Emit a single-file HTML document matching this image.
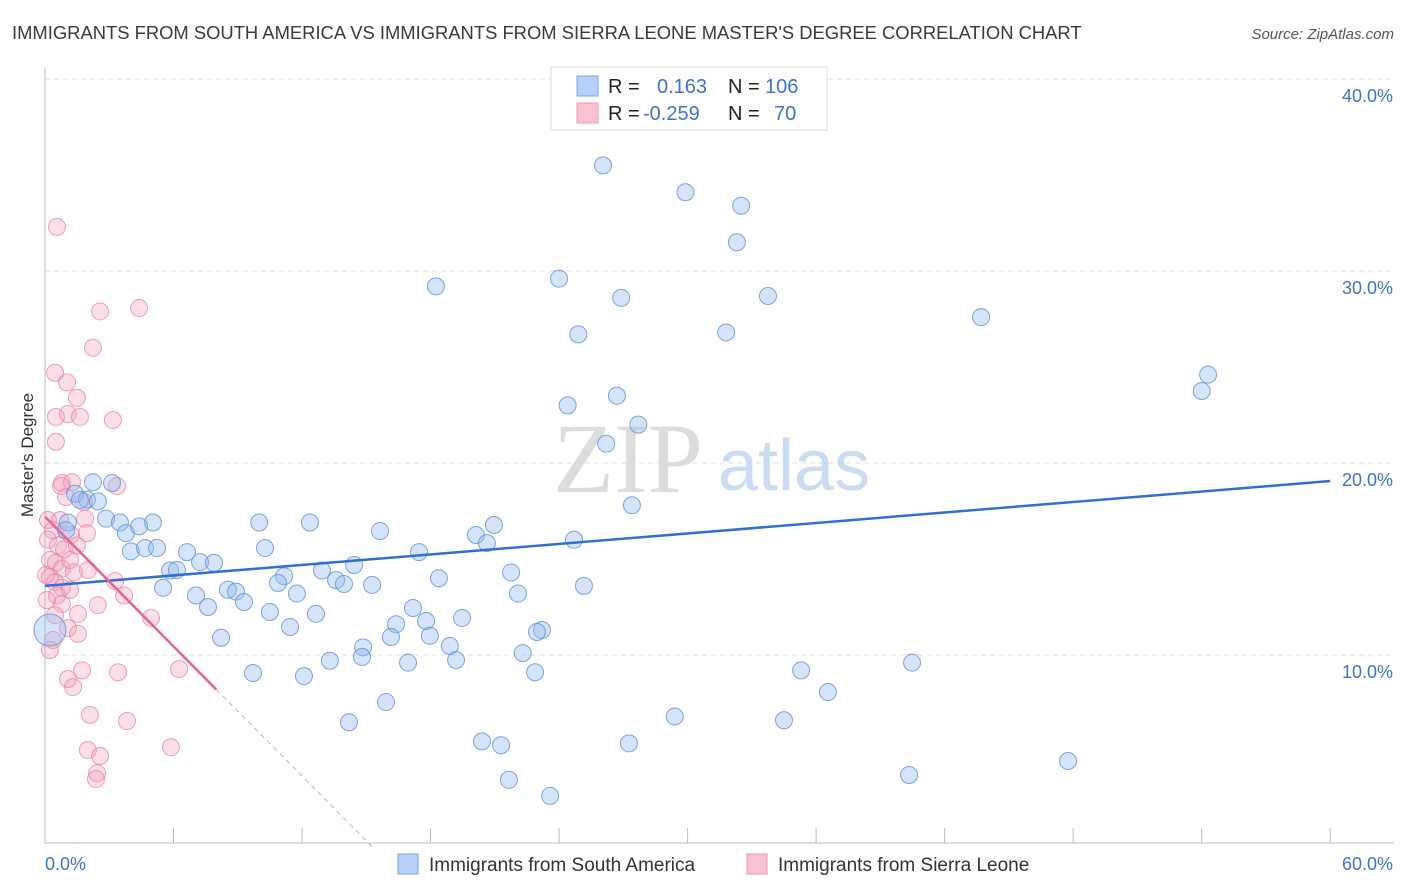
<!DOCTYPE html>
<html><head><meta charset="utf-8"><style>
body{margin:0;background:#fff;font-family:"Liberation Sans",sans-serif;}
#wrap{position:relative;width:1406px;height:892px;overflow:hidden;}
</style></head><body>
<div id="wrap">
<svg id="svg" width="1406" height="892" xmlns="http://www.w3.org/2000/svg">
<text x="12" y="39" font-size="18.4" fill="#3a3a3a">IMMIGRANTS FROM SOUTH AMERICA VS IMMIGRANTS FROM SIERRA LEONE MASTER'S DEGREE CORRELATION CHART</text>
<text x="1394" y="39" font-size="15" fill="#555" font-style="italic" text-anchor="end">Source: ZipAtlas.com</text>
<text transform="translate(33,455) rotate(-90)" font-size="17" fill="#333" text-anchor="middle">Master's Degree</text>
<g id="grid"></g>
<text x="553" y="492" font-family="Liberation Serif,serif" font-size="100" fill="#dcdcdc">ZIP</text>
<text x="718" y="490" font-size="72" fill="#cadcf2">atlas</text>
<g id="pts"></g>
<g id="lines"></g>
<g>
<rect x="551" y="67" width="276" height="63" fill="#fff" stroke="#ddd"/>
<rect x="577" y="76" width="21" height="20" fill="#b5cff5" stroke="#7aa5e3"/>
<rect x="577" y="103" width="21" height="20" fill="#f9c2d3" stroke="#ec99b6"/>
<text x="608" y="93" font-size="20" fill="#222">R = </text><text x="657" y="93" font-size="20" fill="#3d73d0">0.163</text>
<text x="728" y="93" font-size="20" fill="#222">N = </text><text x="765" y="93" font-size="20" fill="#3d73d0">106</text>
<text x="608" y="120" font-size="20" fill="#222">R = </text><text x="643" y="120" font-size="20" fill="#3d73d0">-0.259</text>
<text x="728" y="120" font-size="20" fill="#222">N = </text><text x="774" y="120" font-size="20" fill="#3d73d0">70</text>
</g>
<g>
<rect x="398" y="854" width="20" height="20" fill="#b5cff5" stroke="#7aa5e3"/>
<text x="429" y="871" font-size="19" fill="#333">Immigrants from South America</text>
<rect x="747" y="854" width="20" height="20" fill="#f9c2d3" stroke="#ec99b6"/>
<text x="778" y="871" font-size="19" fill="#333">Immigrants from Sierra Leone</text>
</g>
</svg>
</div>
<script>
const blueX=[26.05,29.9,32.5,32.3,18.25,24.0,26.9,33.75,24.9,31.8,43.7,54.3,54.0,24.4,26.7,26.2,27.7,27.4,2.24,3.13,1.4,1.96,2.47,1.63,1.07,0.98,2.85,3.5,3.78,5.04,4.39,10.0,12.37,15.64,20.96,20.12,20.63,24.7,4.01,4.67,5.23,6.63,10.27,17.46,5.84,6.16,7.24,7.89,14.43,12.93,11.16,10.88,18.39,21.76,15.27,13.59,13.96,5.51,7.05,8.54,8.92,9.29,11.76,7.61,10.5,12.65,17.18,19.47,22.08,25.16,16.39,17.79,11.44,8.22,14.85,16.15,17.97,23.2,22.97,18.9,13.3,14.8,16.95,19.19,22.3,9.71,12.09,22.88,35.3,40.48,36.55,15.92,14.19,29.4,34.5,20.4,21.29,27.26,21.66,23.58,40.34,47.76,0.23];
const blueY=[35.5,34.1,33.4,31.5,29.2,29.6,28.6,28.7,26.7,26.8,27.6,24.6,23.75,23.0,23.5,21.0,22.0,17.8,19.0,18.96,18.4,18.1,18.0,18.07,16.9,16.5,17.1,16.9,16.35,16.9,16.7,16.9,16.9,16.46,16.77,16.25,15.83,16.0,15.4,15.57,15.57,15.36,15.57,15.36,14.4,14.43,14.84,14.8,14.69,14.4,14.1,13.75,14.0,14.3,13.65,13.9,13.7,13.5,13.1,13.4,13.3,12.76,13.2,12.5,12.24,12.14,12.45,11.93,13.2,13.6,11.6,11.77,11.46,10.9,10.4,10.94,11.0,11.3,11.2,10.47,9.7,9.9,9.6,9.74,10.1,9.06,8.9,9.1,9.2,9.6,8.07,7.55,6.5,6.8,6.6,5.5,5.3,5.4,3.5,2.66,3.75,4.48,11.3];
const pinkX=[0.56,2.57,4.39,2.24,0.47,1.03,1.49,0.51,1.07,1.63,3.17,0.51,0.79,1.26,0.75,3.36,1.82,0.98,0.14,0.7,0.37,1.21,1.87,0.14,0.61,0.89,1.49,1.96,0.23,0.51,0.79,1.17,2.0,0.23,0.47,0.79,1.35,3.27,3.69,0.56,0.79,2.47,0.47,1.07,1.54,1.54,4.95,0.37,1.73,3.41,6.26,1.07,1.31,2.1,3.83,2.0,2.57,2.43,2.38,5.88,0.23,0.09,0.05,1.17];
const pinkY=[32.3,27.9,28.07,26.0,24.7,24.2,23.4,22.4,22.55,22.4,22.24,21.1,18.96,19.0,18.8,18.8,17.97,18.23,17.03,17.03,16.5,16.25,17.1,16.0,15.7,15.5,15.7,16.35,14.95,14.8,14.5,14.95,14.43,14.06,13.8,13.5,14.3,13.85,13.1,13.1,12.66,12.6,12.08,11.4,11.1,12.14,11.93,10.78,9.2,9.1,9.27,8.75,8.33,6.88,6.56,5.05,4.74,3.85,3.54,5.2,10.26,12.86,14.17,13.4];
const blueTrend=[13.6,19.06];
const pinkTrend=[17.2,8.2];
const yTicks=[10,20,30,40];
const yTickLabels=["10.0%","20.0%","30.0%","40.0%"];
const NS="http://www.w3.org/2000/svg";
const sx=v=>45+v*21.42, sy=v=>847-v*19.2;
function mk(tag,attrs,parent){const e=document.createElementNS(NS,tag);for(const k in attrs)e.setAttribute(k,attrs[k]);parent.appendChild(e);return e;}
const grid=document.getElementById('grid');
mk('line',{x1:45,y1:68,x2:45,y2:843,stroke:'#bbb'},grid);
mk('line',{x1:45,y1:843,x2:1394,y2:843,stroke:'#bbb'},grid);
for(let i=0;i<=10;i++){const x=sx(i*6);const t=mk('line',{x1:x,y1:828,x2:x,y2:843,stroke:'#bbb'},grid);

}
yTicks.forEach((v,i)=>{const l=mk('line',{x1:45,y1:sy(v),x2:1394,y2:sy(v),stroke:'#ddd','stroke-dasharray':'5,4'},grid);


const t=mk('text',{x:1393,y:sy(v)+23,'font-size':18,fill:'#3d73d0','text-anchor':'end'},grid);t.textContent=yTickLabels[i];

});
const x0=mk('text',{x:45,y:870,'font-size':18,fill:'#3d73d0'},grid);x0.textContent="0.0%";


const x1=mk('text',{x:1393,y:870,'font-size':18,fill:'#3d73d0','text-anchor':'end'},grid);x1.textContent="60.0%";


const pts=document.getElementById('pts');
pinkX.forEach((v,i)=>{const c=mk('circle',{cx:sx(v),cy:sy(pinkY[i]),r:8.5,fill:'rgba(242,160,188,0.35)',stroke:'rgba(232,130,165,0.75)','stroke-width':1},pts);

});
blueX.forEach((v,i)=>{const big=i===blueX.length-1;const c=mk('circle',{cx:sx(v),cy:sy(blueY[i]),r:big?16:8.5,fill:'rgba(150,188,238,0.4)',stroke:'rgba(90,145,220,0.8)','stroke-width':1},pts);

});
const lines=document.getElementById('lines');
const bl=mk('line',{x1:sx(0),y1:sy(blueTrend[0]),x2:sx(60),y2:sy(blueTrend[1]),stroke:'#2f6fd6','stroke-width':2.5},lines);


const pslope=(pinkTrend[1]-pinkTrend[0])/8;
const pl=mk('line',{x1:sx(0),y1:sy(pinkTrend[0]),x2:sx(8),y2:sy(pinkTrend[1]),stroke:'#e8648f','stroke-width':2.5},lines);


const xe=-pinkTrend[0]/pslope;
const pd=mk('line',{x1:sx(8),y1:sy(pinkTrend[1]),x2:sx(xe),y2:sy(0),stroke:'#eaa0b8','stroke-width':1,'stroke-dasharray':'5,4'},lines);


</script>
</body></html>
